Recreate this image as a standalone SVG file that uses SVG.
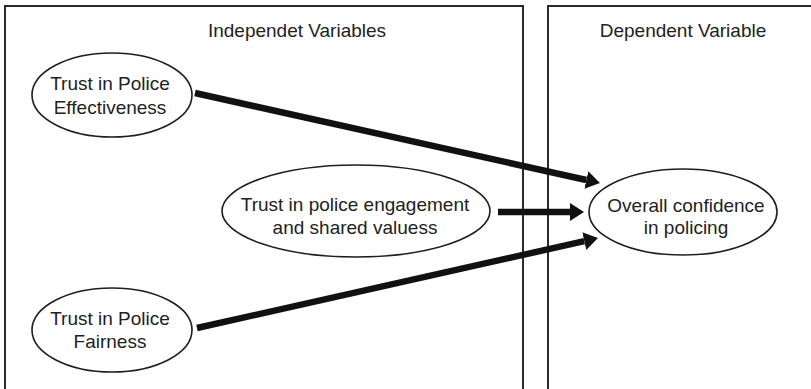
<svg xmlns="http://www.w3.org/2000/svg" width="811" height="389" viewBox="0 0 811 389">
<defs>
<style>
.box{fill:none;stroke:#2a2a2a;stroke-width:2}
.node ellipse{fill:#fff;stroke:#1e1e1e;stroke-width:1.6}
text{font-family:"Liberation Sans",Arial,sans-serif;font-size:19px;fill:#222;text-anchor:middle}
.conn{stroke:#111;stroke-width:6.5;fill:none;marker-end:url(#ah)}
</style>
<marker id="ah" viewBox="0 0 14 18" refX="0" refY="9" markerWidth="14" markerHeight="18" orient="auto" markerUnits="userSpaceOnUse">
<path d="M0,0 L14,9 L0,18 z" fill="#111"/>
</marker>
</defs>
<rect width="811" height="389" fill="#fff"/>
<g id="panel-left">
<rect class="box" x="5" y="6" width="518" height="395"/>
<text x="297" y="37">Independet Variables</text>
</g>
<g id="panel-right">
<rect class="box" x="548" y="6" width="275" height="395"/>
<text x="683" y="37">Dependent Variable</text>
</g>
<g id="connectors">
<path class="conn" d="M195,93 L586.3,180"/>
<path class="conn" d="M498,212 L570,212"/>
<path class="conn" d="M197,328 L584.3,241.1"/>
</g>
<g id="n1" class="node">
<ellipse cx="112" cy="95" rx="80" ry="42"/>
<text x="110" y="90">Trust in Police</text>
<text x="110" y="114">Effectiveness</text>
</g>
<g id="n2" class="node">
<ellipse cx="356" cy="211" rx="134" ry="46"/>
<text x="355" y="211">Trust in police engagement</text>
<text x="355" y="234">and shared valuess</text>
</g>
<g id="n3" class="node">
<ellipse cx="112" cy="330" rx="80" ry="42"/>
<text x="110" y="325">Trust in Police</text>
<text x="110" y="348">Fairness</text>
</g>
<g id="n4" class="node">
<ellipse cx="683" cy="212" rx="94" ry="43"/>
<text x="686" y="212">Overall confidence</text>
<text x="686" y="234">in policing</text>
</g>
</svg>
